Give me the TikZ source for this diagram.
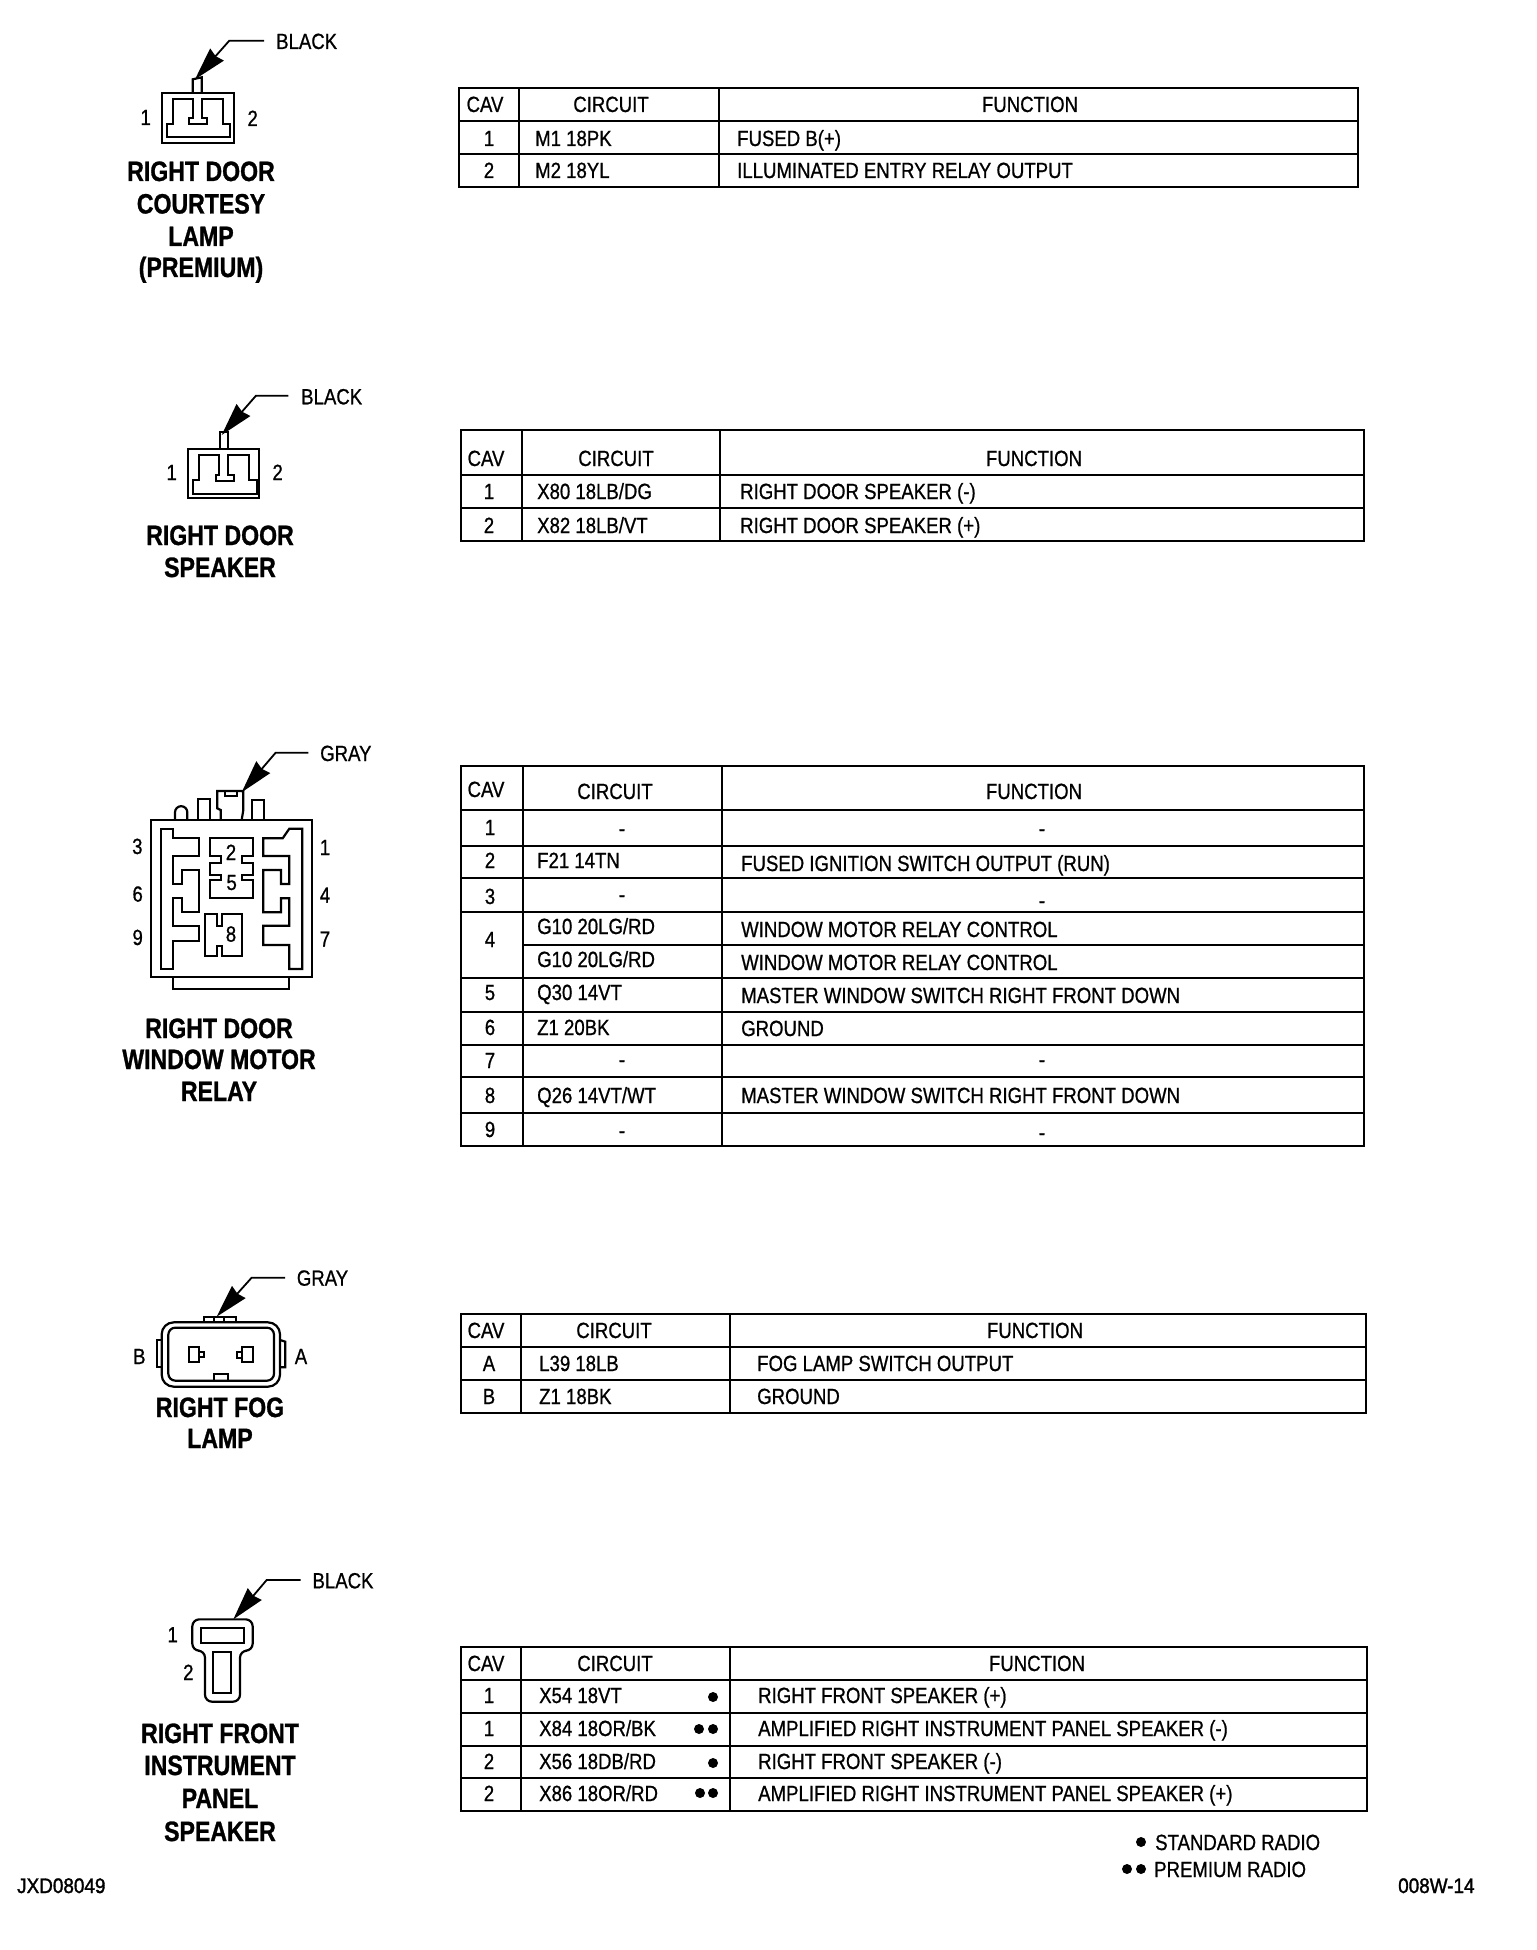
\documentclass[tikz,border=0pt]{standalone}
\usepackage{fontspec}
\usetikzlibrary{arrows.meta}
\newfontfamily\tabfont[FakeStretch=0.845,FakeBold=0.8]{Liberation Sans}
\newfontfamily\headfont[FakeStretch=0.825,FakeBold=1]{Liberation Sans Bold}
\newfontfamily\codefont[FakeStretch=0.9,FakeBold=1.5]{Liberation Sans}
\tikzset{
  tl/.style={font=\tabfont\fontsize{22}{24}\selectfont,inner sep=0pt,anchor=base west},
  tc/.style={font=\tabfont\fontsize{22}{24}\selectfont,inner sep=0pt,anchor=base},
  hd/.style={font=\headfont\fontsize{28}{30}\selectfont,inner sep=0pt,anchor=base},
  code/.style={font=\codefont\fontsize{21}{24}\selectfont,inner sep=0pt,anchor=base west},
  rule/.style={line width=2.6pt,line cap=rect},
  conn/.style={line width=2.2pt,line join=miter},
  lead/.style={line width=1.8pt,-{Stealth[length=33pt,width=18pt,inset=2pt]}},
  zm/.style={x=0.33333pt,y=-0.33333pt},
  dot/.style={circle,fill=black,inner sep=0pt,minimum size=10pt}
}
\begin{document}
\begin{tikzpicture}[x=1pt,y=-1pt]
\useasboundingbox (0,0) rectangle (1536,1950);
\fill[white] (0,0) rectangle (1536,1950);

% ===== Table 1
\draw[rule] (459,88) rectangle (1358,187);
\draw[rule] (519,88) -- (519,187) (719,88) -- (719,187);
\draw[rule] (459,121) -- (1358,121) (459,154) -- (1358,154);
\node[tc] (a0) at (485,112) {CAV};
\node[tc] (a1) at (611,112) {CIRCUIT};
\node[tc] (a2) at (1030,112) {FUNCTION};
\node[tc] (a3) at (489,146) {1};
\node[tl] (a4) at (535,146) {M1 18PK};
\node[tl] (a5) at (737,146) {FUSED B(+)};
\node[tc] (a6) at (489,178) {2};
\node[tl] (a7) at (535,178) {M2 18YL};
\node[tl] (a8) at (737,178) {ILLUMINATED ENTRY RELAY OUTPUT};

% ===== Table 2
\draw[rule] (461,430) rectangle (1364,541);
\draw[rule] (522,430) -- (522,541) (720,430) -- (720,541);
\draw[rule] (461,475) -- (1364,475) (461,508) -- (1364,508);
\node[tc] (b0) at (486,466) {CAV};
\node[tc] (b1) at (616,466) {CIRCUIT};
\node[tc] (b2) at (1034,466) {FUNCTION};
\node[tc] (b3) at (489,499) {1};
\node[tl] (b4) at (537,499) {X80 18LB/DG};
\node[tl] (b5) at (740,499) {RIGHT DOOR SPEAKER (-)};
\node[tc] (b6) at (489,533) {2};
\node[tl] (b7) at (537,533) {X82 18LB/VT};
\node[tl] (b8) at (740,533) {RIGHT DOOR SPEAKER (+)};

% ===== Table 3
\draw[rule] (461,766) rectangle (1364,1146);
\draw[rule] (523,766) -- (523,1146) (722,766) -- (722,1146);
\draw[rule] (461,810) -- (1364,810) (461,846) -- (1364,846) (461,878) -- (1364,878)
  (461,912) -- (1364,912) (523,945) -- (1364,945) (461,978) -- (1364,978)
  (461,1012) -- (1364,1012) (461,1045) -- (1364,1045) (461,1077) -- (1364,1077)
  (461,1113) -- (1364,1113);
\node[tc] (c0) at (486,797) {CAV};
\node[tc] (c1) at (615,799) {CIRCUIT};
\node[tc] (c2) at (1034,799) {FUNCTION};
\node[tc] (c3) at (490,835) {1};
\node[tc] (c4) at (622,836) {-};
\node[tc] (c5) at (1042,836) {-};
\node[tc] (c6) at (490,868) {2};
\node[tl] (c7) at (537,868) {F21 14TN};
\node[tl] (c8) at (741,871) {FUSED IGNITION SWITCH OUTPUT (RUN)};
\node[tc] (c9) at (490,904) {3};
\node[tc] (c10) at (622,902) {-};
\node[tc] (c11) at (1042,908) {-};
\node[tc] (c12) at (490,947) {4};
\node[tl] (c13) at (537,934) {G10 20LG/RD};
\node[tl] (c14) at (741,937) {WINDOW MOTOR RELAY CONTROL};
\node[tl] (c15) at (537,967) {G10 20LG/RD};
\node[tl] (c16) at (741,970) {WINDOW MOTOR RELAY CONTROL};
\node[tc] (c17) at (490,1000) {5};
\node[tl] (c18) at (537,1000) {Q30 14VT};
\node[tl] (c19) at (741,1003) {MASTER WINDOW SWITCH RIGHT FRONT DOWN};
\node[tc] (c20) at (490,1035) {6};
\node[tl] (c21) at (537,1035) {Z1 20BK};
\node[tl] (c22) at (741,1036) {GROUND};
\node[tc] (c23) at (490,1068) {7};
\node[tc] (c24) at (622,1067) {-};
\node[tc] (c25) at (1042,1067) {-};
\node[tc] (c26) at (490,1103) {8};
\node[tl] (c27) at (537,1103) {Q26 14VT/WT};
\node[tl] (c28) at (741,1103) {MASTER WINDOW SWITCH RIGHT FRONT DOWN};
\node[tc] (c29) at (490,1137) {9};
\node[tc] (c30) at (622,1138) {-};
\node[tc] (c31) at (1042,1140) {-};

% ===== Table 4
\draw[rule] (461,1314) rectangle (1366,1413);
\draw[rule] (521,1314) -- (521,1413) (730,1314) -- (730,1413);
\draw[rule] (461,1347) -- (1366,1347) (461,1380) -- (1366,1380);
\node[tc] (d0) at (486,1338) {CAV};
\node[tc] (d1) at (614,1338) {CIRCUIT};
\node[tc] (d2) at (1035,1338) {FUNCTION};
\node[tc] (d3) at (489,1371) {A};
\node[tl] (d4) at (539,1371) {L39 18LB};
\node[tl] (d5) at (757,1371) {FOG LAMP SWITCH OUTPUT};
\node[tc] (d6) at (489,1404) {B};
\node[tl] (d7) at (539,1404) {Z1 18BK};
\node[tl] (d8) at (757,1404) {GROUND};

% ===== Table 5
\draw[rule] (461,1647) rectangle (1367,1811);
\draw[rule] (521,1647) -- (521,1811) (730,1647) -- (730,1811);
\draw[rule] (461,1680) -- (1367,1680) (461,1713) -- (1367,1713) (461,1746) -- (1367,1746) (461,1778) -- (1367,1778);
\node[tc] (e0) at (486,1671) {CAV};
\node[tc] (e1) at (615,1671) {CIRCUIT};
\node[tc] (e2) at (1037,1671) {FUNCTION};
\node[tc] (e3) at (489,1703) {1};
\node[tl] (e4) at (539,1703) {X54 18VT};
\node[dot] (e5) at (713,1697) {};
\node[tl] (e6) at (758,1703) {RIGHT FRONT SPEAKER (+)};
\node[tc] (e7) at (489,1736) {1};
\node[tl] (e8) at (539,1736) {X84 18OR/BK};
\node[dot] (e9) at (699,1729) {};
\node[dot] (e10) at (713,1729) {};
\node[tl] (e11) at (758,1736) {AMPLIFIED RIGHT INSTRUMENT PANEL SPEAKER (-)};
\node[tc] (e12) at (489,1769) {2};
\node[tl] (e13) at (539,1769) {X56 18DB/RD};
\node[dot] (e14) at (713,1763) {};
\node[tl] (e15) at (758,1769) {RIGHT FRONT SPEAKER (-)};
\node[tc] (e16) at (489,1801) {2};
\node[tl] (e17) at (539,1801) {X86 18OR/RD};
\node[dot] (e18) at (700,1793) {};
\node[dot] (e19) at (713,1793) {};
\node[tl] (e20) at (758,1801) {AMPLIFIED RIGHT INSTRUMENT PANEL SPEAKER (+)};

% ===== Legend and codes
\node[dot] (f0) at (1141,1842) {};
\node[tl] (f1) at (1155,1850) {STANDARD RADIO};
\node[dot] (f2) at (1127,1869) {};
\node[dot] (f3) at (1141,1869) {};
\node[tl] (f4) at (1154,1877) {PREMIUM RADIO};
\node[code] (f5) at (1398,1893) {008W-14};
\node[code] (f6) at (17,1893) {JXD08049};

% ===== Connector 1
\begin{scope}[shift={(100,0)},zm]
\draw[conn] (187,278) rectangle (402,428);
\draw[conn] (278,278) -- (278,238) -- (305,232) -- (305,278);
\draw[conn] (218,298) -- (278,298) -- (278,355) -- (268,355) -- (268,372) -- (322,372) -- (322,355) -- (305,355) -- (305,298) -- (370,298) -- (370,372) -- (390,372) -- (390,412) -- (200,412) -- (200,372) -- (218,372) -- cycle;
\node[tl] (g0) at (528,147) {BLACK};
\node[tc] (g1) at (137,375) {1};
\node[tc] (g2) at (458,378) {2};
\coordinate (g3) at (492,122);
\coordinate (g4) at (388,122);
\coordinate (g5) at (285,238);
\draw[lead] (g3) -- (g4) -- (g5);
\end{scope}
\node[hd] (g6) at (201,181) {RIGHT DOOR};
\node[hd] (g7) at (201,213.5) {COURTESY};
\node[hd] (g8) at (201,246) {LAMP};
\node[hd] (g9) at (201,277) {(PREMIUM)};

% ===== Connector 2
\begin{scope}[shift={(100,370)},zm]
\draw[conn] (265,237) rectangle (478,385);
\draw[conn] (360,237) -- (360,187) -- (385,187) -- (385,237);
\draw[conn] (298,255) -- (358,255) -- (358,315) -- (348,315) -- (348,332) -- (402,332) -- (402,315) -- (385,315) -- (385,255) -- (448,255) -- (448,330) -- (470,330) -- (470,372) -- (278,372) -- (278,330) -- (298,330) -- cycle;
\node[tl] (h0) at (603,103) {BLACK};
\node[tc] (h1) at (215,330) {1};
\node[tc] (h2) at (533,330) {2};
\coordinate (h3) at (565,77);
\coordinate (h4) at (468,77);
\coordinate (h5) at (365,195);
\draw[lead] (h3) -- (h4) -- (h5);
\end{scope}
\node[hd] (h6) at (220,545) {RIGHT DOOR};
\node[hd] (h7) at (220,577) {SPEAKER};

% ===== Connector 3
\begin{scope}[shift={(100,730)},zm]
\draw[conn] (153,270) rectangle (635,742);
\draw[conn] (225,270) -- (225,247) arc[start angle=180,end angle=360,radius=18.5] -- (262,270);
\draw[conn] (293,270) -- (293,207) -- (330,207) -- (330,270);
\draw[conn] (362,270) -- (362,240) -- (352,235) -- (352,183) -- (430,183) -- (430,240) -- (425,270);
\draw[conn] (375,185) -- (375,198) -- (410,198) -- (410,185);
\draw[conn] (455,270) -- (455,210) -- (492,210) -- (492,270);
\draw[conn] (218,742) -- (218,778) -- (568,778) -- (568,742);
\draw[conn] (183,296) -- (220,296) -- (220,325) -- (298,325) -- (298,378) -- (220,378) -- (220,462) -- (245,462) -- (245,420) -- (298,420) -- (298,547) -- (245,547) -- (245,505) -- (220,505) -- (220,587) -- (298,587) -- (298,632) -- (220,632) -- (220,717) -- (183,717) -- cycle;
\draw[conn] (607,296) -- (568,296) -- (548,325) -- (490,325) -- (490,378) -- (568,378)-- (568,462) -- (543,462) -- (543,420) -- (490,420) -- (490,547) -- (543,547) -- (543,505) -- (568,505) -- (568,587) -- (490,587) -- (490,645) -- (568,645) -- (568,717) -- (607,717) -- cycle;
\draw[conn] (330,323) -- (458,323) -- (458,378) -- (425,378) -- (425,398) -- (458,398) -- (458,435) -- (425,435) -- (425,450) -- (458,450) -- (458,505) -- (330,505) -- (330,450) -- (362,450) -- (362,435) -- (330,435) -- (330,398) -- (362,398) -- (362,378) -- (330,378) -- cycle;
\draw[conn] (315,552) -- (350,552) -- (350,587) -- (365,587) -- (365,552) -- (427,552) -- (427,678) -- (365,678) -- (365,648) -- (350,648) -- (350,678) -- (315,678) -- cycle;
\node[tl] (i0) at (660,93) {GRAY};
\node[tc] (i1) at (393,390) {2};
\node[tc] (i2) at (395,480) {5};
\node[tc] (i3) at (393,635) {8};
\node[tc] (i4) at (112,372) {3};
\node[tc] (i5) at (113,515) {6};
\node[tc] (i6) at (113,645) {9};
\node[tc] (i7) at (675,375) {1};
\node[tc] (i8) at (675,518) {4};
\node[tc] (i9) at (675,650) {7};
\coordinate (i10) at (625,68);
\coordinate (i11) at (527,68);
\coordinate (i12) at (425,187);
\draw[lead] (i10) -- (i11) -- (i12);
\end{scope}
\node[hd] (i13) at (219,1038) {RIGHT DOOR};
\node[hd] (i14) at (219,1069) {WINDOW MOTOR};
\node[hd] (i15) at (219,1101) {RELAY};

% ===== Connector 4
\begin{scope}[shift={(100,1260)},zm]
\draw[conn,rounded corners=12pt] (185,187) rectangle (540,380);
\draw[conn,rounded corners=7pt] (205,203) rectangle (522,362);
\draw[conn] (312,187) -- (312,170) -- (408,170) -- (408,187) (343,170) -- (343,187) (372,170) -- (372,187);
\draw[conn] (185,240) -- (170,240) -- (170,322) -- (185,322);
\draw[conn] (540,240) -- (556,245) -- (556,322) -- (540,322);
\draw[conn] (342,362) -- (342,342) -- (383,342) -- (383,362);
\draw[conn] (267,262) rectangle (298,305) (298,275) -- (313,275) -- (313,292) -- (298,292);
\draw[conn] (425,262) rectangle (458,307) (425,275) -- (412,275) -- (412,295) -- (425,295);
\node[tl] (j0) at (590,77) {GRAY};
\node[tc] (j1) at (118,312) {B};
\node[tc] (j2) at (603,312) {A};
\coordinate (j3) at (555,53);
\coordinate (j4) at (455,53);
\coordinate (j5) at (350,170);
\draw[lead] (j3) -- (j4) -- (j5);
\end{scope}
\node[hd] (j6) at (220,1417) {RIGHT FOG};
\node[hd] (j7) at (220,1448) {LAMP};

% ===== Connector 5
\begin{scope}[shift={(100,1560)},zm]
\draw[conn,rounded corners=7pt] (277,178) -- (458,178) -- (458,272) -- (420,272) -- (420,425) -- (315,425) -- (315,272) -- (277,272) -- cycle;
\draw[conn] (303,203) rectangle (433,250);
\draw[conn] (340,275) rectangle (392,398);
\node[tl] (k0) at (637,85) {BLACK};
\node[tc] (k1) at (218,247) {1};
\node[tc] (k2) at (265,360) {2};
\coordinate (k3) at (602,60);
\coordinate (k4) at (500,60);
\coordinate (k5) at (400,178);
\draw[lead] (k3) -- (k4) -- (k5);
\end{scope}
\node[hd] (k6) at (220,1743) {RIGHT FRONT};
\node[hd] (k7) at (220,1775) {INSTRUMENT};
\node[hd] (k8) at (220,1808) {PANEL};
\node[hd] (k9) at (220,1841) {SPEAKER};
\end{tikzpicture}
\end{document}
